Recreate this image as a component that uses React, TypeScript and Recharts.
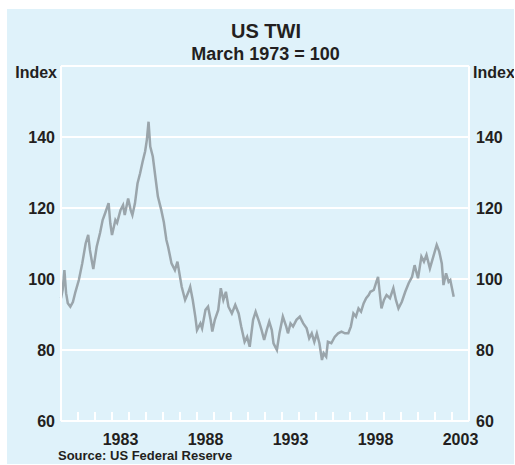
import { LineChart, Line, XAxis, YAxis, CartesianGrid, ReferenceLine } from "recharts";

// fractional years and index values
const years = [
  1980.0, 1980.1, 1980.2, 1980.3, 1980.4, 1980.55, 1980.7, 1980.85, 1981.05, 1981.25,
  1981.45, 1981.6, 1981.7, 1981.8, 1981.9, 1982.1, 1982.3, 1982.45, 1982.6, 1982.8,
  1982.9, 1983.0, 1983.2, 1983.3, 1983.5, 1983.65, 1983.75, 1983.95, 1984.1, 1984.2,
  1984.35, 1984.5, 1984.65, 1984.8, 1984.95, 1985.05, 1985.15, 1985.25, 1985.4, 1985.55,
  1985.7, 1985.9, 1986.05, 1986.2, 1986.3, 1986.5, 1986.7, 1986.85, 1987.0, 1987.1,
  1987.3, 1987.5, 1987.6, 1987.75, 1987.9, 1988.0, 1988.2, 1988.3, 1988.5, 1988.65,
  1988.8, 1988.9, 1989.05, 1989.25, 1989.4, 1989.55, 1989.7, 1989.85, 1990.05, 1990.25,
  1990.45, 1990.6, 1990.8, 1990.95, 1991.1, 1991.3, 1991.45, 1991.65, 1991.8, 1991.95,
  1992.1, 1992.25, 1992.4, 1992.5, 1992.7, 1992.85, 1993.05, 1993.25, 1993.35, 1993.5,
  1993.65, 1993.85, 1994.05, 1994.25, 1994.45, 1994.6, 1994.75, 1994.9, 1995.05, 1995.2,
  1995.35, 1995.45, 1995.6, 1995.7, 1995.9, 1996.1, 1996.3, 1996.5, 1996.7, 1996.9,
  1997.05, 1997.2, 1997.35, 1997.5, 1997.65, 1997.8, 1997.95, 1998.1, 1998.2, 1998.4,
  1998.55, 1998.65, 1998.75, 1998.85, 1999.0, 1999.15, 1999.35, 1999.55, 1999.7, 1999.85,
  2000.05, 2000.25, 2000.45, 2000.65, 2000.8, 2001.0, 2001.2, 2001.35, 2001.5, 2001.7,
  2001.9, 2002.1, 2002.25, 2002.4, 2002.5, 2002.65, 2002.8, 2002.9, 2003.1,
];
const twi = [
  94.6, 97, 102.5, 96, 93.2, 92.2, 93.5, 96.4, 99.7, 104.4,
  110, 112.4, 108.2, 105.4, 102.8, 109.1, 113, 116.6, 118.6, 121.4,
  115.7, 112.4, 116.6, 115.8, 119.4, 120.8, 118, 122.7, 119.4, 118,
  121.3, 126.9, 129.7, 133, 136, 139.2, 144.3, 137.3, 134.5, 128.8,
  123.2, 119.4, 116, 111, 109.1, 104.4, 102.5, 104.9, 100.6, 97.8,
  94.1, 96.4, 97.8, 94.1, 89.4, 85.6, 87.5, 86.1, 91.3, 92.2,
  88.5, 85.2, 88.5, 91.3, 97.4, 94.1, 96.4, 92.2, 90.3, 92.7,
  90.3, 86.6, 82.3, 83.7, 80.9, 88.5, 90.8, 88, 85.6, 82.8,
  85.6, 88, 85.6, 81.9, 80, 84.7, 89.4, 86.6, 84.7, 87.5,
  86.6, 88.5, 89.4, 87.5, 86.1, 83.3, 84.7, 82.3, 84.7, 81.9,
  77.2, 79.1, 78.1, 82.3, 81.9, 83.7, 84.7, 85.2, 84.7, 84.7,
  86.6, 90.3, 89.4, 91.7, 90.8, 93.1, 94.6, 95.5, 96.4, 96.9,
  99.2, 100.6, 96, 91.7, 94.1, 95.5, 94.6, 97.4, 94.1, 91.7,
  93.6, 96.4, 98.8, 100.6, 103.9, 100.2, 106.3, 104.9, 106.8, 103,
  106.3, 109.6, 107.7, 104.4, 98.3, 101.6, 99.2, 99.7, 95,
];
const yTicks = [60, 80, 100, 120, 140];
const tickYears = [
  1980, 1981, 1982, 1983, 1984, 1985, 1986, 1987, 1988, 1989, 1990, 1991, 1992,
  1993, 1994, 1995, 1996, 1997, 1998, 1999, 2000, 2001, 2002, 2003, 2004,
];
const labelYears = [1983, 1988, 1993, 1998, 2003];

const data = years.map((year, i) => ({ year, twi: twi[i] }));

const W = 507;
const H = 455;
const BG = "#DFF2FA";
const INK = "#231F20";
const FONT = "'Liberation Sans', Arial, Helvetica, sans-serif";
const HALF_YEAR = 408 / 24 / 2; // labels sit in the middle of the year

function YearTick({ x, y, payload }: any) {
  const show = labelYears.includes(payload.value);
  return (
    <g>
      <line x1={x} y1={y} x2={x} y2={y - 9} stroke="#fff" strokeWidth={2} />
      {show && (
        <text
          x={x + HALF_YEAR}
          y={y + 24}
          textAnchor="middle"
          fontSize={16}
          fontWeight={700}
          fontFamily={FONT}
          fill={INK}
        >
          {payload.value}
        </text>
      )}
    </g>
  );
}

function RightTick({ x, y, payload }: any) {
  return (
    <text x={x} y={y} dy={6} textAnchor="start" fontSize={16} fontWeight={700} fontFamily={FONT} fill={INK}>
      {payload.value}
    </text>
  );
}

const tickStyle = { fontSize: 16, fontWeight: 700, fill: INK, fontFamily: FONT };

export default function App() {
  return (
    <div
      style={{
        position: "absolute",
        left: 7,
        top: 9,
        width: W,
        height: H,
        background: BG,
        overflow: "hidden",
      }}
    >
      <LineChart width={W} height={H} data={data} margin={{ top: 57, right: 5, bottom: 13, left: 14 }}>
        <CartesianGrid vertical={false} stroke="#fff" strokeWidth={2} />
        <XAxis
          dataKey="year"
          type="number"
          domain={[1980, 2004]}
          ticks={tickYears}
          interval={0}
          height={30}
          tickLine={false}
          tickSize={0}
          tickMargin={0}
          axisLine={{ stroke: "#fff", strokeWidth: 2 }}
          tick={<YearTick />}
        />
        <YAxis
          domain={[60, 160]}
          ticks={yTicks}
          width={40}
          tickLine={false}
          tickSize={0}
          tickMargin={6}
          axisLine={{ stroke: "#fff", strokeWidth: 2 }}
          tick={tickStyle}
        />
        <YAxis
          yAxisId="right"
          orientation="right"
          domain={[60, 160]}
          allowDataOverflow
          ticks={yTicks}
          interval={0}
          width={40}
          tickLine={false}
          tickSize={0}
          tickMargin={7}
          axisLine={{ stroke: "#fff", strokeWidth: 2 }}
          tick={<RightTick />}
        />
        <ReferenceLine y={160} stroke="#fff" strokeWidth={2} />
        <Line
          type="linear"
          dataKey="twi"
          stroke="#9AA5AB"
          strokeWidth={2.5}
          dot={false}
          isAnimationActive={false}
        />
      </LineChart>
      <svg
        width={W}
        height={H}
        style={{ position: "absolute", left: 0, top: 0, pointerEvents: "none" }}
        fontFamily={FONT}
        fontWeight={700}
        fill={INK}
      >
        <text x={259} y={29} textAnchor="middle" fontSize={20}>US TWI</text>
        <text x={258.5} y={51} textAnchor="middle" fontSize={18}>March 1973 = 100</text>
        <text x={50} y={69} textAnchor="end" fontSize={16}>Index</text>
        <text x={466} y={69} textAnchor="start" fontSize={16}>Index</text>
        <text x={51} y={451} fontSize={13}>Source: US Federal Reserve</text>
      </svg>
    </div>
  );
}
